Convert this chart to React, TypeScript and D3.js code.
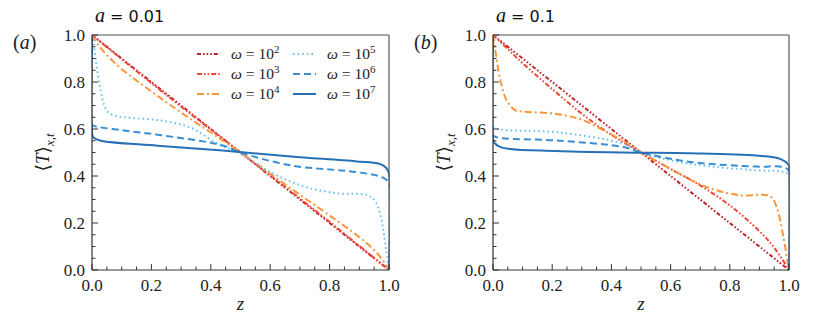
import React from "react";
import * as d3 from "d3";

// ---------- data ----------
const omegaLabels = ["2", "3", "4", "5", "6", "7"];
const seriesColors = ["#c0222c", "#ee4a3a", "#f7963a", "#6cc0ec", "#3a8fd2", "#2770b6"];
const seriesDash = ["4,2,1.6,2,1.6,2,1.6,2", "5,2,1.6,2,1.6,2", "7,3,2,3", "1.6,3", "7,4", ""];

const xTicks = [0, 0.2, 0.4, 0.6, 0.8, 1.0];
const yTicks = [0, 0.2, 0.4, 0.6, 0.8, 1.0];

// panel (a): a = 0.01  — each series as [z, T]
const a1e2: [number, number][] = [[0, 1], [0.5, 0.5], [1, 0]];
const a1e3: [number, number][] = [[0, 1], [0.25, 0.745], [0.5, 0.5], [0.75, 0.255], [1, 0]];
const a1e4: [number, number][] = [[0, 1], [0.02, 0.96], [0.05, 0.915], [0.1, 0.855], [0.2, 0.76], [0.3, 0.67], [0.4, 0.585], [0.5, 0.5], [0.6, 0.41], [0.7, 0.32], [0.8, 0.232], [0.9, 0.14], [0.95, 0.085], [0.98, 0.04], [1, 0]];
const a1e5: [number, number][] = [[0, 1], [0.005, 0.965], [0.012, 0.9], [0.02, 0.83], [0.03, 0.76], [0.04, 0.705], [0.055, 0.67], [0.08, 0.655], [0.12, 0.648], [0.22, 0.638], [0.33, 0.607], [0.42, 0.54], [0.5, 0.494], [0.61, 0.41], [0.72, 0.353], [0.83, 0.326], [0.93, 0.318], [0.955, 0.29], [0.97, 0.24], [0.981, 0.17], [0.99, 0.09], [1, 0]];
const a1e6: [number, number][] = [[0, 1], [0, 0.62], [0.005, 0.614], [0.1, 0.595], [0.22, 0.576], [0.44, 0.53], [0.5, 0.5], [0.67, 0.445], [0.89, 0.417], [0.97, 0.398], [0.99, 0.385], [1, 0.37], [1, 0]];
const a1e7: [number, number][] = [[0, 1], [0, 0.59], [0.004, 0.565], [0.027, 0.551], [0.22, 0.529], [0.44, 0.508], [0.67, 0.483], [0.89, 0.462], [0.967, 0.452], [0.99, 0.435], [1, 0.41], [1, 0]];

// panel (b): a = 0.1
const b1e2: [number, number][] = [[0, 1], [0.5, 0.5], [1, 0]];
const b1e3: [number, number][] = [[0, 1], [0.05, 0.94], [0.1, 0.88], [0.2, 0.77], [0.3, 0.665], [0.4, 0.575], [0.5, 0.5], [0.6, 0.43], [0.7, 0.36], [0.8, 0.275], [0.9, 0.165], [0.95, 0.095], [1, 0]];
const b1e4: [number, number][] = [[0, 1], [0.012, 0.9], [0.025, 0.805], [0.047, 0.72], [0.075, 0.68], [0.103, 0.674], [0.216, 0.664], [0.306, 0.636], [0.385, 0.586], [0.475, 0.523], [0.5, 0.5], [0.609, 0.424], [0.722, 0.353], [0.834, 0.318], [0.936, 0.314], [0.958, 0.269], [0.981, 0.141], [0.996, 0.028], [1, 0]];
const b1e5: [number, number][] = [[0, 1], [0, 0.61], [0.013, 0.6], [0.216, 0.586], [0.441, 0.537], [0.5, 0.5], [0.666, 0.452], [0.891, 0.424], [0.981, 0.417], [1, 0.4], [1, 0]];
const b1e6: [number, number][] = [[0, 1], [0, 0.575], [0.013, 0.565], [0.216, 0.551], [0.441, 0.523], [0.5, 0.5], [0.666, 0.46], [0.891, 0.44], [0.981, 0.438], [1, 0.42], [1, 0]];
const b1e7: [number, number][] = [[0, 1], [0, 0.56], [0.003, 0.544], [0.025, 0.523], [0.216, 0.506], [0.441, 0.5], [0.666, 0.497], [0.891, 0.487], [0.97, 0.473], [0.997, 0.45], [1, 0.44], [1, 0]];

const panelA = [a1e2, a1e3, a1e4, a1e5, a1e6, a1e7];
const panelB = [b1e2, b1e3, b1e4, b1e5, b1e6, b1e7];

const serif = "'Liberation Serif', 'DejaVu Serif', serif";
const sans = "'DejaVu Sans', 'Noto Sans', sans-serif";

type PanelProps = {
  x0: number; x1: number; y0: number; y1: number;
  series: [number, number][][];
  title: string; tag: string; showLegend: boolean; id: string;
};

function Panel({ x0, x1, y0, y1, series, title, tag, showLegend, id }: PanelProps) {
  const xs = d3.scaleLinear().domain([0, 1]).range([x0, x1]);
  const ys = d3.scaleLinear().domain([0, 1]).range([y1, y0]);
  const line = d3.line<[number, number]>()
    .x((d) => xs(d[0]))
    .y((d) => ys(d[1]))
    .curve(d3.curveCatmullRom.alpha(0.5));
  const minor = d3.range(0, 1.0001, 0.05);
  const legendRows = [0, 1, 2];
  return (
    <g>
      <defs>
        <clipPath id={id}>
          <rect x={x0} y={y0 - 1} width={x1 - x0 + 1} height={y1 - y0 + 2} />
        </clipPath>
      </defs>
      <g clipPath={`url(#${id})`}>
        {series.map((s, i) => (
          <path key={i} d={line(s) || ""} fill="none" stroke={seriesColors[i]}
            strokeWidth={2} strokeDasharray={seriesDash[i]} />
        ))}
      </g>
      {/* frame */}
      <line x1={x0} x2={x1} y1={y0} y2={y0} stroke="#8a8a8a" strokeWidth={1.3} />
      <line x1={x1} x2={x1} y1={y0} y2={y1} stroke="#666" strokeWidth={1.3} />
      <line x1={x0} x2={x0} y1={y0} y2={y1} stroke="#333" strokeWidth={1.2} />
      <line x1={x0} x2={x1} y1={y1} y2={y1} stroke="#333" strokeWidth={1.2} />
      {/* ticks */}
      {minor.map((t, i) => {
        const major = i % 4 === 0;
        const len = major ? 6 : 3.5;
        return (
          <g key={i}>
            <line x1={xs(t)} x2={xs(t)} y1={y1} y2={y1 - len} stroke="#333" strokeWidth={1} />
            <line x1={x0} x2={x0 + len} y1={ys(t)} y2={ys(t)} stroke="#333" strokeWidth={1} />
          </g>
        );
      })}
      {xTicks.map((t) => (
        <text key={"x" + t} x={xs(t)} y={y1 + 21} textAnchor="middle" fontFamily={serif}
          fontSize={17} fill="#222">{t.toFixed(1)}</text>
      ))}
      {yTicks.map((t) => (
        <text key={"y" + t} x={x0 - 7} y={ys(t) + 6} textAnchor="end" fontFamily={serif}
          fontSize={17} fill="#222">{t.toFixed(1)}</text>
      ))}
      <text x={(x0 + x1) / 2} y={y1 + 40} textAnchor="middle" fontFamily={serif} fontStyle="italic"
        fontSize={19} fill="#222">z</text>
      <text transform={`translate(${x0 - 43},${(y0 + y1) / 2}) rotate(-90)`} textAnchor="middle"
        fontFamily={serif} fontSize={19} fill="#222">
        ⟨<tspan fontStyle="italic">T</tspan>⟩<tspan fontStyle="italic" fontSize={13} dy={5}>x,t</tspan>
      </text>
      <text x={x0 - 79} y={y0 + 14} fontFamily={serif} fontSize={20} fill="#222">
        (<tspan fontStyle="italic">{tag}</tspan>)
      </text>
      <text x={x0 + 3} y={y0 - 13} fontFamily={sans} fontSize={16} fill="#111">
        <tspan fontStyle="italic" fontFamily={serif} fontSize={20}>a</tspan> = {title}
      </text>
      {showLegend && legendRows.map((r) => (
        <g key={r}>
          {[0, 1].map((c) => {
            const i = c * 3 + r;
            const lx = x0 + 105 + c * 96;
            const ly = y0 + 19 + r * 20;
            return (
              <g key={c}>
                <line x1={lx} x2={lx + 23} y1={ly} y2={ly} stroke={seriesColors[i]} strokeWidth={2}
                  strokeDasharray={seriesDash[i]} />
                <text x={lx + 34} y={ly + 5} fontFamily={serif} fontSize={15.5} fill="#222">
                  <tspan fontStyle="italic">ω</tspan> = 10<tspan fontSize={11} dy={-6}>{omegaLabels[i]}</tspan>
                </text>
              </g>
            );
          })}
        </g>
      ))}
    </g>
  );
}

export default function App() {
  return (
    <svg width={830} height={322} style={{ display: "block", position: "absolute", left: 0, top: 0 }}>
      <rect width={830} height={322} fill="#fff" />
      <Panel x0={92} x1={389} y0={35} y1={270} series={panelA} title="0.01" tag="a" showLegend={true} id="clipA" />
      <Panel x0={493} x1={789} y0={35} y1={270} series={panelB} title="0.1" tag="b" showLegend={false} id="clipB" />
    </svg>
  );
}
